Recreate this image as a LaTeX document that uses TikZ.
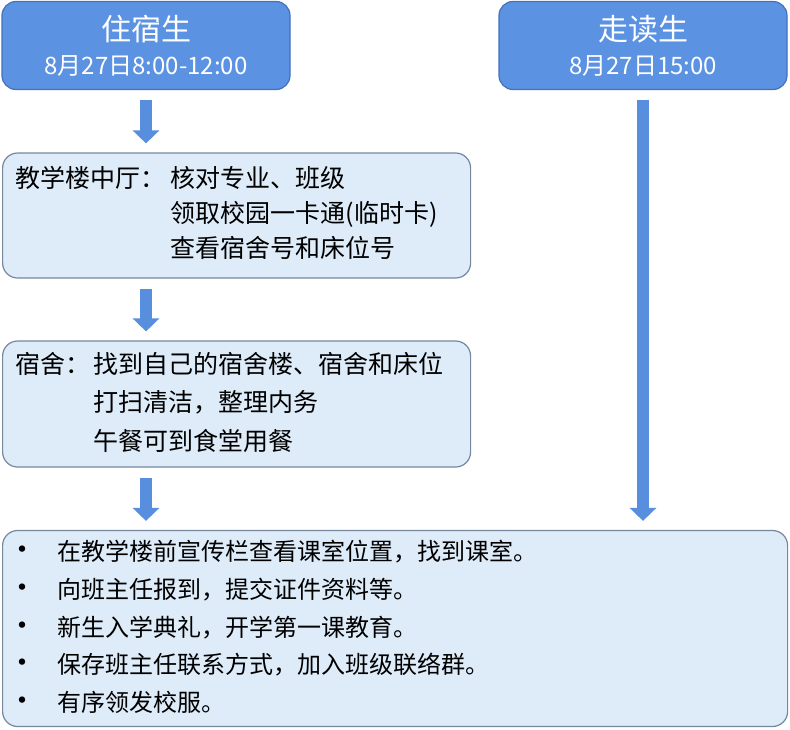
\documentclass[tikz,border=0pt]{standalone}
\usepackage{fontspec}
\setmainfont{Noto Sans CJK SC}
\usepackage{xcolor}
\usetikzlibrary{arrows.meta, positioning, calc}
\definecolor{headfill}{RGB}{91,146,226}
\definecolor{headborder}{RGB}{68,112,190}
\definecolor{stagefill}{RGB}{222,235,248}
\definecolor{stageborder}{RGB}{118,136,158}
\definecolor{flowblue}{RGB}{88,142,222}
\tikzset{
    header/.style={rectangle, rounded corners=14pt, minimum width=288pt, minimum height=88pt, draw=headborder, line width=1.2pt, fill=headfill, text=white, align=center, font=\fontsize{24}{34}\selectfont},
    stage/.style={rectangle, rounded corners=15pt, anchor=west, inner xsep=13pt, draw=stageborder, line width=1.2pt, fill=stagefill, align=left},
    flow/.style={line width=12pt, color=flowblue, -{Triangle[width=26pt, length=13pt]}, shorten <=10pt, shorten >=9pt}
}
\newcommand{\headtitle}[2]{{\fontsize{30}{34}\selectfont #1}\\#2}
\newcommand{\dotmark}{{\fontsize{30}{30}\selectfont •}}

\begin{document}
\begin{tikzpicture}[x=1pt, y=-1pt]
    \useasboundingbox (0,0) rectangle (790,729);
    % Headers
    \node (stay) [header] at (146,45.5) {\headtitle{住宿生}{8月27日8:00-12:00}};
    \node (day) [header] at (643,45.5) {\headtitle{走读生}{8月27日15:00}};

    % Stages
    \node (hall) [stage, minimum width=468pt, minimum height=125pt, text width=442pt] at (2,215.5)
        {\fontsize{25}{35}\selectfont\begin{tabular}{@{}l@{\hspace{5pt}}l@{}}
         教学楼中厅： & 核对专业、班级\\
          & 领取校园一卡通(临时卡)\\
          & 查看宿舍号和床位号
         \end{tabular}};
    \node (dorm) [stage, minimum width=468pt, minimum height=126pt, text width=442pt] at (2,404)
        {\fontsize{25}{38.5}\selectfont\begin{tabular}{@{}l@{\hspace{3pt}}l@{}}
         宿舍： & 找到自己的宿舍楼、宿舍和床位\\
          & 打扫清洁，整理内务\\
          & 午餐可到食堂用餐
         \end{tabular}};
    \node (tasks) [stage, inner xsep=5pt, minimum width=785pt, minimum height=196pt, text width=775pt] at (2,628.5)
        {\fontsize{24}{37.8}\selectfont\begin{tabular}{@{}l@{\hspace{20pt}}l@{}}
         \dotmark & 在教学楼前宣传栏查看课室位置，找到课室。\\
         \dotmark & 向班主任报到，提交证件资料等。\\
         \dotmark & 新生入学典礼，开学第一课教育。\\
         \dotmark & 保存班主任联系方式，加入班级联络群。\\
         \dotmark & 有序领发校服。
         \end{tabular}};

    % Arrows
    \draw [flow] (stay.south) -- (stay.south |- hall.north);
    \draw [flow] (stay.south |- hall.south) -- (stay.south |- dorm.north);
    \draw [flow] (stay.south |- dorm.south) -- (stay.south |- tasks.north);
    \draw [flow] (day.south) -- (day.south |- tasks.north);
\end{tikzpicture}
\end{document}
